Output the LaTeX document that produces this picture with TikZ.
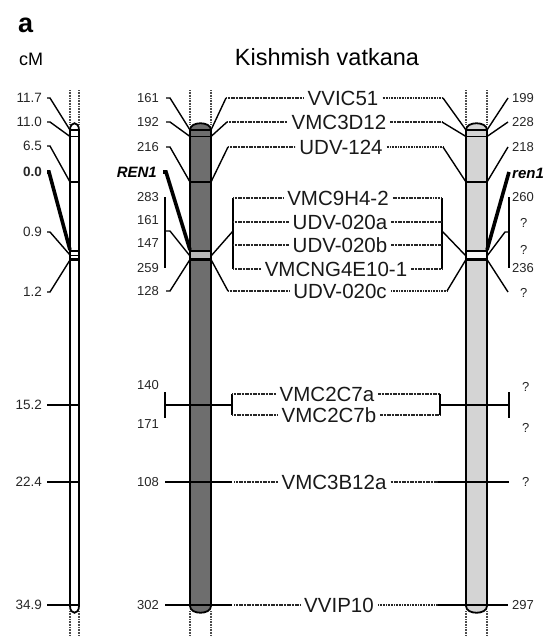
\documentclass[tikz,border=0pt]{standalone}
\usepackage{fontspec}
\setmainfont{Liberation Sans}
\definecolor{midgray}{HTML}{6E6E6E}
\definecolor{lgray}{HTML}{D4D4D4}
\newcommand\chrbar[3]{%
  \draw[ext] (#1,90) -- (#1,125) (#2,90) -- (#2,125);
  \draw[ext] (#1,611) -- (#1,637) (#2,611) -- (#2,637);
  \draw[barout,fill=#3] (#1,606) -- (#1,130) .. controls (#1,121) and (#2,121) .. (#2,130) -- (#2,606) .. controls (#2,615) and (#1,615) .. (#1,606) -- cycle;
}
\begin{document}
\begin{tikzpicture}[x=1pt,y=-1pt,
  cmn/.style={font=\fontsize{13.5}{15}\selectfont, inner sep=1pt, anchor=east, text=black!85},
  lnum/.style={font=\fontsize{13}{15}\selectfont, inner sep=1pt, anchor=east, text=black!85},
  rnum/.style={font=\fontsize{13}{15}\selectfont, inner sep=1pt, anchor=west, text=black!85},
  mk/.style={font=\fontsize{20.5}{24}\selectfont, inner sep=4pt, text=black!90},
  gene/.style={font=\fontsize{15}{17}\selectfont\bfseries\itshape, inner sep=1pt},
  conn/.style={line width=1.4pt},
  dl/.style={line width=1.4pt, black!85, dash pattern=on 1.1pt off 0.5pt},
  thickl/.style={line width=3.6pt},
  ext/.style={line width=1.1pt, black!70, dash pattern=on 1pt off 0.6pt},
  barout/.style={line width=1.8pt},
  band/.style={line width=1.4pt},
  bandthick/.style={line width=2.6pt},
]
\useasboundingbox (0,0) rectangle (552,637);

% header
\node[font=\fontsize{27}{30}\selectfont\bfseries, anchor=base west, inner sep=0pt] (hdra) at (18,32) {a};
\node[font=\fontsize{18}{20}\selectfont, anchor=base west, inner sep=0pt] (hdrcm) at (19,65) {cM};
\node[font=\fontsize{23.5}{26}\selectfont, anchor=base, inner sep=0pt] (hdrkv) at (327,65) {Kishmish vatkana};

% chromosome bars
\chrbar{70}{79}{white}
\chrbar{190}{211}{midgray}
\chrbar{466}{487}{lgray}
\fill[white] (71,251) rectangle (78,259.5);
\fill[gray!55] (191,251) rectangle (210,259.5);
\fill[gray!6] (467,251) rectangle (486,259.5);
\foreach \xl/\xr in {70/79,190/211,466/487} {
  \draw[band] (\xl,130) -- (\xr,130);
  \draw[band] (\xl,136.5) -- (\xr,136.5);
  \draw[band] (\xl,182) -- (\xr,182);
  \draw[bandthick] (\xl,251) -- (\xr,251);
  \draw[bandthick] (\xl,259.5) -- (\xr,259.5);
}
\draw[band] (70,255.5) -- (79,255.5);

% coordinates on bar edges
\coordinate (L130) at (70,130); \coordinate (L137) at (70,136.5);
\coordinate (L182) at (70,182); \coordinate (L250) at (70,250);
\coordinate (L255) at (70,255); \coordinate (L260) at (70,260);
\coordinate (L405) at (79,405); \coordinate (L482) at (79,482); \coordinate (L605) at (79,605);
\coordinate (ML130) at (190,130); \coordinate (ML137) at (190,136.5);
\coordinate (ML182) at (190,182); \coordinate (ML250) at (190,250);
\coordinate (ML256) at (190,256); \coordinate (ML259) at (190,259.5);
\coordinate (MR130) at (211,130); \coordinate (MR137) at (211,136.5);
\coordinate (MR182) at (211,182); \coordinate (MR256) at (211,256); \coordinate (MR259) at (211,259.5);
\coordinate (RL130) at (466,130); \coordinate (RL137) at (466,136.5);
\coordinate (RL182) at (466,182); \coordinate (RL256) at (466,256); \coordinate (RL259) at (466,259.5);
\coordinate (RR130) at (487,130); \coordinate (RR137) at (487,136.5);
\coordinate (RR182) at (487,182); \coordinate (RR250) at (487,250);
\coordinate (RR256) at (487,256); \coordinate (RR259) at (487,259.5);

% left cM scale
\node[cmn] (c117) at (43,98) {11.7};
\node[cmn] (c110) at (43,122) {11.0};
\node[cmn] (c65) at (43,146) {6.5};
\node[cmn] (c00) at (43,172) {\textbf{0.0}};
\node[cmn] (c09) at (43,232) {0.9};
\node[cmn] (c12) at (43,292) {1.2};
\node[cmn] (c152) at (43,405) {15.2};
\node[cmn] (c224) at (43,482) {22.4};
\node[cmn] (c349) at (43,605) {34.9};
\draw[conn] ([xshift=4pt]c117.east) -- ++(3,0) -- (L130);
\draw[conn] ([xshift=4pt]c110.east) -- ++(3,0) -- (L137);
\draw[conn] ([xshift=4pt]c65.east) -- ++(3,0) -- (L182);
\draw[thickl] ([xshift=4pt]c00.east) -- ++(2,0) -- (L250);
\draw[conn] ([xshift=4pt]c09.east) -- ++(3,0) -- (L255);
\draw[conn] ([xshift=4pt]c12.east) -- ++(3,0) -- (L260);
\draw[conn] ([xshift=4pt]c152.east) -- (L405);
\draw[conn] ([xshift=4pt]c224.east) -- (L482);
\draw[conn] ([xshift=4pt]c349.east) -- (L605);

% middle bar, left labels
\node[lnum] (n161a) at (160,98) {161};
\node[lnum] (n192) at (160,122) {192};
\node[lnum] (n216) at (160,147) {216};
\node[gene, anchor=east] (REN) at (158,172) {REN1};
\node[lnum] (n283) at (160,197) {283};
\node[lnum] (n161b) at (160,220) {161};
\node[lnum] (n147) at (160,243) {147};
\node[lnum] (n259) at (160,268) {259};
\node[lnum] (n128) at (160,291) {128};
\node[lnum] (n140) at (160,385) {140};
\node[lnum] (n171) at (160,424) {171};
\node[lnum] (n108) at (160,482) {108};
\node[lnum] (n302) at (160,605) {302};
\draw[conn] ([xshift=6pt]n161a.east) -- ++(4,0) -- (ML130);
\draw[conn] ([xshift=6pt]n192.east) -- ++(4,0) -- (ML137);
\draw[conn] ([xshift=6pt]n216.east) -- ++(4,0) -- (ML182);
\draw[thickl] ([xshift=5pt]REN.east) -- ++(3,0) -- (ML250);
\draw[conn] (165,197) -- (165,268);
\draw[conn] (165,231) -- (170,231) -- (ML256);
\draw[conn] ([xshift=6pt]n128.east) -- ++(4,0) -- (ML259);

% right bar, right labels
\node[rnum] (r199) at (511,98) {199};
\node[rnum] (r228) at (511,122) {228};
\node[rnum] (r218) at (511,147) {218};
\node[gene, anchor=west] (ren) at (511,173) {ren1};
\node[rnum] (r260) at (511,197) {260};
\node[rnum] (rq1) at (519,223) {?};
\node[rnum] (rq2) at (519,250) {?};
\node[rnum] (r236) at (511,268) {236};
\node[rnum] (rq3) at (519,293) {?};
\node[rnum] (rq4) at (521,387) {?};
\node[rnum] (rq5) at (521,428) {?};
\node[rnum] (rq6) at (521,482) {?};
\node[rnum] (r297) at (511,605) {297};
\draw[conn] (RR130) -- (508,98);
\draw[conn] (RR137) -- (508,122);
\draw[conn] (RR182) -- (508,147);
\draw[thickl] (RR250) -- (509,172);
\draw[conn] (509,197) -- (509,268);
\draw[conn] (509,232) -- (505,232) -- (RR256);
\draw[conn] (RR259) -- (508,292);

% markers
\node[mk] (m1) at (343,98) {VVIC51};
\node[mk] (m2) at (339,122) {VMC3D12};
\node[mk] (m3) at (341,147) {UDV-124};
\node[mk] (m4) at (338,198) {VMC9H4-2};
\node[mk] (m5) at (340,222) {UDV-020a};
\node[mk] (m6) at (340,245) {UDV-020b};
\node[mk] (m7) at (336,269) {VMCNG4E10-1};
\node[mk] (m8) at (340,291) {UDV-020c};
\node[mk] (m9) at (327,394) {VMC2C7a};
\node[mk] (m10) at (329,415) {VMC2C7b};
\node[mk] (m11) at (334,482) {VMC3B12a};
\node[mk] (m12) at (339,605) {VVIP10};

% top three markers
\draw[conn] (MR130) -- (226,98); \draw[dl] (226,98) -- (m1.west);
\draw[dl] (m1.east) -- (443,98); \draw[conn] (443,98) -- (RL130);
\draw[conn] (MR137) -- (227,122); \draw[dl] (227,122) -- (m2.west);
\draw[dl] (m2.east) -- (442,122); \draw[conn] (442,122) -- (RL137);
\draw[conn] (MR182) -- (228,147); \draw[dl] (228,147) -- (m3.west);
\draw[dl] (m3.east) -- (443,147); \draw[conn] (443,147) -- (RL182);

% bracketed markers
\draw[conn] (233,198) -- (233,269);
\draw[conn] (442,198) -- (442,269);
\draw[conn] (233,231) -- (MR256);
\draw[conn] (442,231) -- (RL256);
\foreach \m/\yy in {m4/198,m5/222,m6/245,m7/269} {
  \draw[dl] (233,\yy) -- (\m.west);
  \draw[dl] (\m.east) -- (442,\yy);
}
\draw[conn] (MR259) -- (228,291); \draw[dl] (228,291) -- (m8.west);
\draw[dl] (m8.east) -- (447,291); \draw[conn] (447,291) -- (RL259);

% VMC2C7a/b
\draw[conn] (165,392) -- (165,418);
\draw[conn] (165,405) -- (232,405);
\draw[conn] (232,394) -- (232,415);
\draw[dl] (232,394) -- (m9.west);
\draw[dl] (232,415) -- (m10.west);
\draw[dl] (m9.east) -- (440,394);
\draw[dl] (m10.east) -- (440,415);
\draw[conn] (440,394) -- (440,415);
\draw[conn] (440,405) -- (509,405);
\draw[conn] (509,392) -- (509,418);

% VMC3B12a
\draw[conn] ([xshift=5pt]n108.east) -- (232,482);
\draw[dl] (234,482) -- (m11.west);
\draw[dl] (m11.east) -- (438,482);
\draw[conn] (438,482) -- (509,482);

% VVIP10
\draw[conn] ([xshift=5pt]n302.east) -- (232,605);
\draw[dl] (234,605) -- (m12.west);
\draw[dl] (m12.east) -- (438,605);
\draw[conn] (438,605) -- ([xshift=-3pt]r297.west);
\end{tikzpicture}
\end{document}
